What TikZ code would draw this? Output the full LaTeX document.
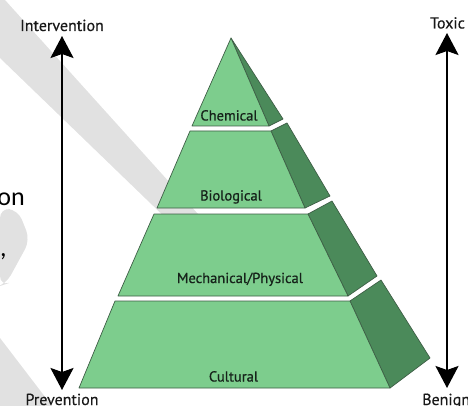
\documentclass[tikz,border=0pt]{standalone}
\usepackage{fontspec}
\setmainfont{PT Sans}
\newfontfamily\labfont[FakeBold=0.6]{PT Sans}
\newfontfamily\axfont[FakeBold=0.3]{PT Sans}
\newfontfamily\bodyfont{Carlito}
\usetikzlibrary{arrows.meta}
\definecolor{facefront}{HTML}{7DCD8D}
\definecolor{faceside}{HTML}{4B8A5A}
\definecolor{edgecol}{HTML}{3E5E46}
\definecolor{wmark}{HTML}{E1E1E1}
\definecolor{labcol}{HTML}{16221A}
\begin{document}
\begin{tikzpicture}[x=1pt,y=-1pt,
  front/.style={fill=facefront, draw=edgecol, line width=0.7pt, line join=round},
  side/.style={fill=faceside, draw=edgecol, line width=0.7pt, line join=round},
  tierlabel/.style={font=\labfont\fontsize{14.5}{16}\selectfont, text=labcol, inner sep=0pt, anchor=base},
  axislabel/.style={font=\axfont\fontsize{16}{18}\selectfont, text=black!90, inner sep=0pt, anchor=base},
  bodytext/.style={font=\bodyfont\fontsize{26}{30}\selectfont, text=black, inner sep=0pt},
  axisline/.style={line width=2.2pt, {Stealth[length=22pt,width=23pt,inset=4pt]}-{Stealth[length=22pt,width=23pt,inset=4pt]}},
]
\useasboundingbox (0,0) rectangle (468,406);
% watermark shapes
\fill[wmark] (0,0) -- (5,0) -- (235,255) -- (204,255) -- (0,58) -- cycle;
\fill[wmark, rounded corners=10pt] (0,208) -- (18,210) -- (30,240) -- (6,284) -- (0,286) -- cycle;
\fill[wmark] (0,338) -- (52,406) -- (0,406) -- cycle;
% background text fragments
\node[bodytext, anchor=base east] (frag1) at (25,205) {on};
\node[bodytext, anchor=base west] (frag2) at (0,256) {,};
% pyramid tiers
\draw[side] (231,38) -- (283,119) -- (269,126) -- cycle;
\draw[front] (231,38) -- (192,126) -- (269,126) -- cycle;
\draw[side] (271,131) -- (287,123) -- (330,196) -- (305,208) -- cycle;
\draw[front] (190,131) -- (271,131) -- (305,208) -- (157,208) -- cycle;
\draw[side] (308,214) -- (332,201) -- (377,276) -- (348,296) -- cycle;
\draw[front] (154,214) -- (308,214) -- (348,296) -- (118,296) -- cycle;
\draw[side] (350,301) -- (381,280) -- (430,358) -- (390,388) -- cycle;
\draw[front] (115,301) -- (350,301) -- (390,388) -- (79,388) -- cycle;
% tier labels
\node[tierlabel] (chem) at (229,120.5) {Chemical};
\node[tierlabel] (bio) at (231,200.5) {Biological};
\node[tierlabel] (mech) at (240,283) {Mechanical/Physical};
\node[tierlabel] (cult) at (233.5,381.5) {Cultural};
% axes
\coordinate (ltop) at (62,36);
\coordinate (lbot) at (62,390);
\coordinate (rtop) at (447,33);
\coordinate (rbot) at (447,388);
\draw[axisline] (lbot) -- (ltop);
\draw[axisline] (rbot) -- (rtop);
\node[axislabel] (interv) at (62,31) {Intervention};
\node[axislabel] (prev) at (62,405) {Prevention};
\node[axislabel] (toxic) at (447.5,28.5) {Toxic};
\node[axislabel, anchor=base west] (benign) at (422,405) {Benign};
\end{tikzpicture}
\end{document}
